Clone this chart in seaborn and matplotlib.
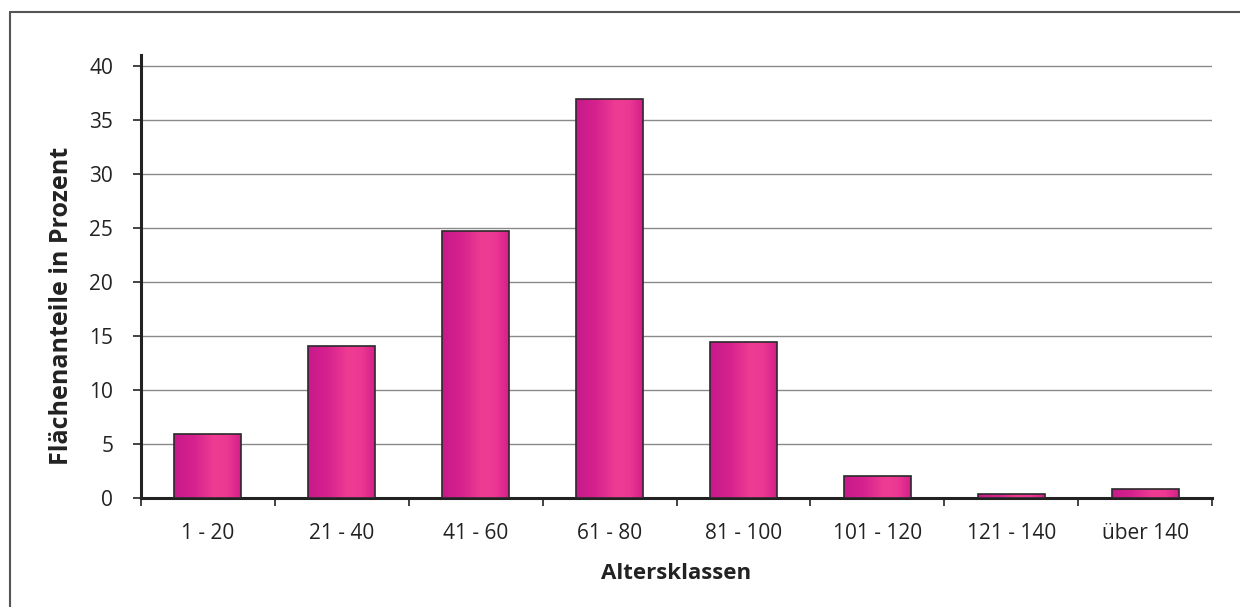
import numpy as np
import pandas as pd
import matplotlib
matplotlib.use("Agg")
import matplotlib.pyplot as plt
from matplotlib.colors import LinearSegmentedColormap
from matplotlib.lines import Line2D
import seaborn as sns

categories = ["1 - 20", "21 - 40", "41 - 60", "61 - 80", "81 - 100", "101 - 120", "121 - 140", "über 140"]
values = [5.9, 14.1, 24.7, 36.9, 14.4, 2.0, 0.4, 0.85]
yticks = [0, 5, 10, 15, 20, 25, 30, 35, 40]

sns.set_theme(style="white")
plt.rcParams['font.family'] = ['Open Sans', 'DejaVu Sans']

df = pd.DataFrame({"klasse": categories, "anteil": values})

fig = plt.figure(figsize=(12.4, 6.07), dpi=100)
ax = fig.add_axes([141/1240, 1 - 498/607, (1212 - 141)/1240, 443/607])

sns.barplot(data=df, x="klasse", y="anteil", color="#D8228D", width=0.5,
            edgecolor="#2a2a2a", linewidth=1.2, ax=ax, zorder=3)

cmap = LinearSegmentedColormap.from_list(
    "mag", [(0.0, "#C8198B"), (0.3, "#D6228E"), (0.6, "#EF3C93"), (0.8, "#EC3892"), (1.0, "#D41F8C")])
grad = np.linspace(0, 1, 256).reshape(1, -1)
for p in ax.patches:
    x0, y0 = p.get_x(), p.get_y()
    w, h = p.get_width(), p.get_height()
    im = ax.imshow(grad, cmap=cmap, aspect="auto", extent=[x0, x0 + w, y0, y0 + h],
                   zorder=3.5, interpolation="bilinear")
    im.set_clip_path(p)
    p.set_facecolor("none")
    p.set_zorder(4)

ax.set_xlim(-0.5, len(categories) - 0.5)
ax.set_ylim(0, 41)
ax.set_yticks(yticks)
ax.set_yticklabels([str(t) for t in yticks], fontsize=15, color="#222222")
ax.yaxis.grid(True, color="#8a8a8a", linewidth=1.0, zorder=0)
ax.set_axisbelow(True)

ax.set_xticks(np.arange(-0.5, len(categories), 1.0))
ax.set_xticklabels([])
ax.set_xticks(np.arange(len(categories)), minor=True)
ax.set_xticklabels(categories, minor=True, fontsize=15, color="#222222")
ax.tick_params(axis="x", which="major", length=6, width=1.2, color="#222222", direction="out", bottom=True)
ax.tick_params(axis="x", which="minor", length=0, pad=18)
ax.tick_params(axis="y", length=6, width=1.2, color="#222222", direction="out", left=True, pad=14)

for s in ["top", "right"]:
    ax.spines[s].set_visible(False)
for s in ["left", "bottom"]:
    ax.spines[s].set_color("#222222")
    ax.spines[s].set_linewidth(2.2)

ax.set_xlabel("Altersklassen", fontsize=16, fontweight="bold", color="#222222", labelpad=14)
ax.set_ylabel("Flächenanteile in Prozent", fontsize=18, fontweight="bold", color="#222222")
ax.yaxis.set_label_coords(-(141 - 74) / 1071, (498 - 306) / 443)

# outer frame
fig.add_artist(Line2D([10/1240, 1.0], [1 - 12/607, 1 - 12/607], transform=fig.transFigure,
                      color="#555555", linewidth=1.5))
fig.add_artist(Line2D([10/1240, 10/1240], [0.0, 1 - 12/607], transform=fig.transFigure,
                      color="#555555", linewidth=1.5))

fig.savefig("out.png", dpi=100)
